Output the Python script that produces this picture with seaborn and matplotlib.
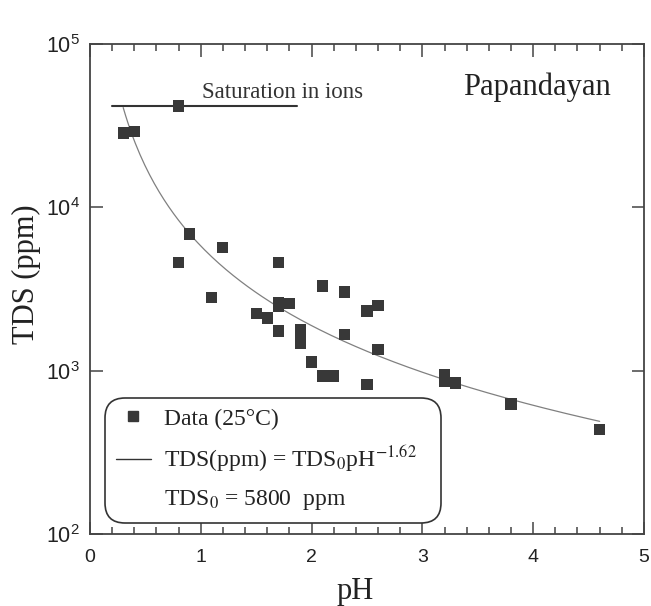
import numpy as np
import pandas as pd
import matplotlib
matplotlib.use("Agg")
import matplotlib.pyplot as plt
import seaborn as sns
from matplotlib.lines import Line2D
from matplotlib.ticker import LogLocator, MultipleLocator, NullLocator, LogFormatterSciNotation

# Dados (pH x TDS em ppm)
ph = [0.3, 0.4, 0.8, 0.9, 0.8, 1.2, 1.7, 1.1, 2.1, 2.3, 1.5, 1.6, 1.7, 1.7, 1.8, 2.5,
      2.6, 1.7, 1.9, 1.9, 1.9, 2.3, 2.0, 2.1, 2.2, 2.5, 2.6, 3.2, 3.2, 3.3, 3.8, 4.6]
tds = [28500, 29000, 41700, 6870, 4620, 5710, 4620, 2820, 3300, 3030, 2250, 2100, 2610, 2460,
       2590, 2320, 2520, 1750, 1795, 1607, 1465, 1675, 1130, 927, 927, 828, 1355, 946, 857,
       840, 625, 439]

# Ajuste: TDS = TDS0 * pH^b
TDS0 = 5800
EXPOENTE = -1.62
PH_MIN, PH_MAX = 0.3, 4.6

# Linha de saturação
SAT_TDS = 41700
SAT_PH = [0.2, 1.87]

xticks = [0, 1, 2, 3, 4, 5]

df = pd.DataFrame({"ph": ph, "tds": tds})
ph_fit = np.linspace(PH_MIN, PH_MAX, 200)
fit = pd.DataFrame({"ph": ph_fit, "tds": TDS0 * ph_fit ** EXPOENTE})
sat = pd.DataFrame({"ph": SAT_PH, "tds": [SAT_TDS, SAT_TDS]})

sns.set_style("ticks")
plt.rcParams["font.family"] = ["Liberation Sans", "DejaVu Sans"]
plt.rcParams["mathtext.fontset"] = "stix"

SERIF = ["Liberation Serif", "DejaVu Serif"]
COR_PONTO = "#383838"
COR_EIXO = "#444444"
COR_TEXTO = "#222222"

fig = plt.figure(figsize=(6.51, 6.06), dpi=100)
ax = fig.add_axes([0.1382, 0.1188, 0.8510, 0.8086])

sns.lineplot(data=fit, x="ph", y="tds", ax=ax, color="#808080", linewidth=0.9)
sns.lineplot(data=sat, x="ph", y="tds", ax=ax, color="#333333", linewidth=1.5)
sns.scatterplot(data=df, x="ph", y="tds", ax=ax, marker="s", s=64,
                color=COR_PONTO, edgecolor="none", zorder=3)

ax.set_yscale("log")
ax.set_xlim(0, 5)
ax.set_ylim(1e2, 1e5)
ax.set_xticks(xticks)
ax.xaxis.set_minor_locator(MultipleLocator(0.2))
ax.yaxis.set_major_locator(LogLocator(base=10))
ax.yaxis.set_major_formatter(LogFormatterSciNotation())
ax.yaxis.set_minor_locator(NullLocator())

for s in ax.spines.values():
    s.set_visible(True)
    s.set_color(COR_EIXO)
    s.set_linewidth(1.3)

ax.tick_params(which="both", direction="in", top=True, right=True, color=COR_EIXO,
               width=1.1, labelcolor=COR_TEXTO)
ax.tick_params(which="major", length=9)
ax.tick_params(which="minor", length=5)
ax.tick_params(axis="x", pad=11, labelsize=14)
ax.tick_params(axis="y", pad=7, labelsize=15.5)

ax.set_xlabel("pH", fontsize=22, family=SERIF, color=COR_TEXTO)
ax.set_ylabel("TDS (ppm)", fontsize=22, family=SERIF, color=COR_TEXTO)
ax.xaxis.set_label_coords(0.478, -0.088)
ax.yaxis.set_label_coords(-0.088, 0.531)

ax.text(1.01, 46700, "Saturation in ions", fontsize=16.5, family=SERIF,
        color="#333333", va="baseline")
ax.text(3.37, 48700, "Papandayan", fontsize=22, family=SERIF,
        color=COR_TEXTO, va="baseline")

handles = [
    Line2D([], [], marker="s", ls="none", color=COR_PONTO, markersize=7),
    Line2D([], [], color="#333333", linewidth=1.0),
    Line2D([], [], ls="none"),
]
labels = [
    "Data (25°C)",
    "TDS(ppm) = TDS$_0$pH$^{-1.62}$   ",
    "TDS$_0$ = 5800  ppm",
]
leg = ax.legend(handles, labels, loc="lower left", bbox_to_anchor=(0.027, 0.0224),
                borderaxespad=0, prop={"family": SERIF, "size": 17},
                handlelength=1.5, handletextpad=0.55, borderpad=0.45,
                labelspacing=0.6, frameon=True, fancybox=True, framealpha=1)
leg.get_frame().set_boxstyle("round", pad=0, rounding_size=0.85)
leg.get_frame().set_edgecolor("#333333")
leg.get_frame().set_linewidth(1.2)
for t in leg.get_texts():
    t.set_color(COR_TEXTO)

fig.savefig("out.png", dpi=100)
